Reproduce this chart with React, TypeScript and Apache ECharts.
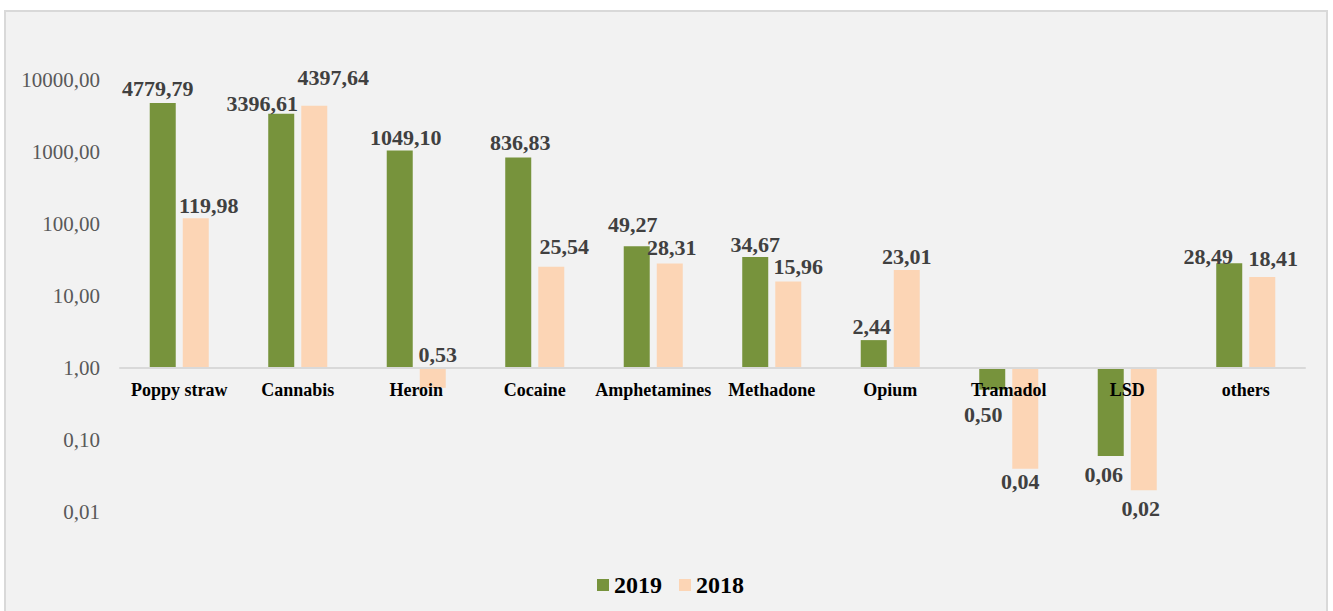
import React, { useEffect, useRef } from 'react';
import * as echarts from 'echarts';

const categories = ['Poppy straw', 'Cannabis', 'Heroin', 'Cocaine', 'Amphetamines', 'Methadone', 'Opium', 'Tramadol', 'LSD', 'others'];
const values2019 = [4779.79, 3396.61, 1049.1, 836.83, 49.27, 34.67, 2.44, 0.5, 0.06, 28.49];
const values2018 = [119.98, 4397.64, 0.53, 25.54, 28.31, 15.96, 23.01, 0.04, 0.02, 18.41];
const seriesNames = ['2019', '2018'];
const yMin = 0.01;
const yMax = 10000;

// label placement tweaks (style only)
const offsets2019 = [[-5, 1], [-19, 6], [6, 3], [2, 1], [-4, -6], [0, 3], [-2, 2], [-9, 9], [-7, 3], [-21, 9]];
const offsets2018 = [[13, 3], [19, -12], [5, 2], [13, -4], [2, 0], [10, 1], [0, 3], [-5, -3], [-3, 2], [11, -2]];
const forceTop2018 = [false, false, true, false, false, false, false, false, false, false];

const colors = ['#77933c', '#fcd5b5'];
const FONT = 'Liberation Serif';

const fmt = (v: number) => Number(v).toFixed(2).replace('.', ',');

function buildData(values: number[], offsets: number[][], forceTop?: boolean[]) {
  return values.map((v, i) => ({
    value: v,
    label: {
      position: v >= 1 || (forceTop && forceTop[i]) ? 'top' : 'bottom',
      offset: offsets[i],
    },
  }));
}

export default function App() {
  const ref = useRef<HTMLDivElement>(null);
  useEffect(() => {
    if (!ref.current) return;
    const chart = echarts.init(ref.current, undefined, { renderer: 'svg' });
    const labelStyle = {
      show: true,
      distance: 5,
      fontFamily: FONT,
      fontWeight: 'bold',
      fontSize: 22,
      color: '#404040',
      formatter: (p: any) => fmt(p.value),
    };
    const option: any = {
      animation: false,
      backgroundColor: '#ffffff',
      textStyle: { fontFamily: FONT },
      graphic: [
        {
          type: 'rect',
          z: -10,
          silent: true,
          shape: { x: 5, y: 11, width: 1322, height: 606 },
          style: { fill: '#f2f2f2', stroke: '#d9d9d9', lineWidth: 2 },
        },
      ],
      grid: { left: 120, right: 28, top: 80, height: 432 },
      legend: {
        left: 592,
        top: 568,
        icon: 'rect',
        itemWidth: 12,
        itemHeight: 12,
        itemGap: 17,
        textStyle: { fontFamily: FONT, fontSize: 24, fontWeight: 'bold', color: '#000000' },
        data: seriesNames,
      },
      xAxis: {
        type: 'category',
        data: categories,
        position: 'bottom',
        offset: -144,
        z: 5,
        axisLine: { lineStyle: { color: '#d9d9d9', width: 2 } },
        axisTick: { show: false },
        axisLabel: {
          interval: 0,
          margin: 13,
          fontFamily: FONT,
          fontSize: 18,
          fontWeight: 'bold',
          color: '#000000',
        },
      },
      yAxis: {
        type: 'log',
        logBase: 10,
        min: yMin,
        max: yMax,
        axisLine: { show: false },
        axisTick: { show: false },
        splitLine: { show: false },
        axisLabel: {
          margin: 20,
          fontFamily: FONT,
          fontSize: 21,
          color: '#595959',
          formatter: (v: number) => fmt(v),
        },
      },
      series: [
        {
          name: seriesNames[0],
          type: 'bar',
          barWidth: 26,
          barGap: '27%',
          itemStyle: { color: colors[0] },
          label: labelStyle,
          data: buildData(values2019, offsets2019),
        },
        {
          name: seriesNames[1],
          type: 'bar',
          barWidth: 26,
          barGap: '27%',
          itemStyle: { color: colors[1] },
          label: labelStyle,
          data: buildData(values2018, offsets2018, forceTop2018),
        },
      ],
    };
    chart.setOption(option);
    return () => chart.dispose();
  }, []);
  return <div ref={ref} style={{ position: 'absolute', left: 0, top: 0, width: 1333, height: 611 }} />;
}
